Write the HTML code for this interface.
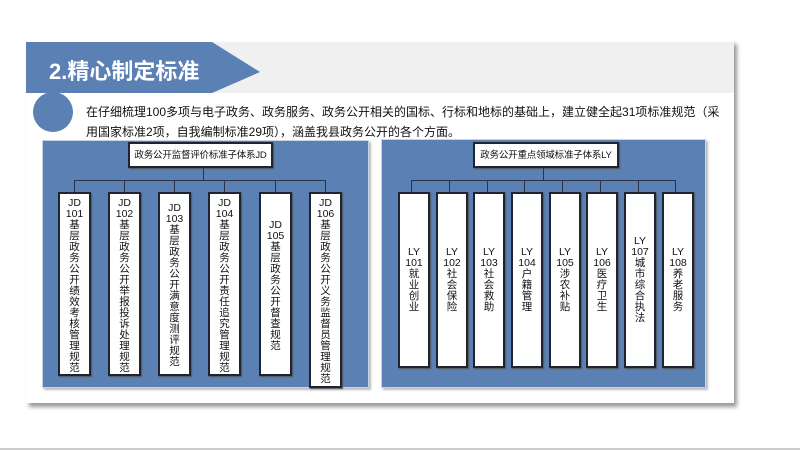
<!DOCTYPE html>
<html><head><meta charset="utf-8"><style>
*{margin:0;padding:0;box-sizing:border-box}
body{width:800px;height:450px;background:#fff;position:relative;overflow:hidden;font-family:"Liberation Sans","Noto Sans CJK SC",sans-serif}
.card{position:absolute;left:26px;top:40px;width:708px;height:363px;background:#fff;box-shadow:3px 4px 4px #9a9a9a}
.band{position:absolute;left:26px;top:42px;width:708px;height:51px;background:#f0f0f0}
.panel{position:absolute;background:#5a80b4;box-shadow:2px 2px 2px #bbb;border:1px solid #c8d4e4}
.b{position:absolute;background:#fff;border:2px solid #1e2432;box-shadow:1px 1px 1px #555;font-size:10.5px;color:#111;text-align:center;line-height:11px}
.v{display:flex;flex-direction:column;align-items:center;padding-top:4px}
.c{display:flex;flex-direction:column;align-items:center;justify-content:center}
.t{white-space:nowrap;font-size:9.5px;letter-spacing:-0.2px}
.ln{position:absolute;background:#2a3448}
.p{position:absolute;left:86px;font-size:12px;color:#111;white-space:nowrap}
</style></head><body>
<div class="card"></div>
<div class="band"></div>
<svg style="position:absolute;left:0;top:0" width="800" height="450">
<polygon points="26,42 212,42 260,72 212,93 26,93" fill="#5a80b4"/>
<circle cx="53" cy="112" r="20" fill="#5a80b4"/>
<line x1="0" y1="449" x2="800" y2="449" stroke="#ccc" stroke-width="2"/>
</svg>
<div style="position:absolute;left:49px;top:54px;color:#fff;font-size:22px;font-weight:bold">2.精心制定标准</div>
<div class="p" style="top:103px">在仔细梳理100多项与电子政务、政务服务、政务公开相关的国标、行标和地标的基础上，建立健全起31项标准规范（采</div>
<div class="p" style="top:123px">用国家标准2项，自我编制标准29项），涵盖我县政务公开的各个方面。</div>

<div class="panel" style="left:42px;top:140px;width:327px;height:248px"></div>
<div class="panel" style="left:381px;top:139px;width:325px;height:249px"></div>

<!-- left tree -->
<div class="b c t" style="left:128px;top:142px;width:145px;height:26px">政务公开监督评价标准子体系JD</div>
<div class="ln" style="left:203px;top:168px;width:1px;height:13px"></div>
<div class="ln" style="left:74px;top:180px;width:252px;height:1px"></div>
<div class="ln" style="left:74px;top:180px;width:1px;height:12px"></div>
<div class="ln" style="left:124px;top:180px;width:1px;height:12px"></div>
<div class="ln" style="left:174px;top:180px;width:1px;height:12px"></div>
<div class="ln" style="left:224px;top:180px;width:1px;height:12px"></div>
<div class="ln" style="left:275px;top:180px;width:1px;height:12px"></div>
<div class="ln" style="left:325px;top:180px;width:1px;height:12px"></div>

<div class="b v" style="left:58px;top:192px;width:33px;height:184px"><span>JD</span><span>101</span><span>基</span><span>层</span><span>政</span><span>务</span><span>公</span><span>开</span><span>绩</span><span>效</span><span>考</span><span>核</span><span>管</span><span>理</span><span>规</span><span>范</span></div>
<div class="b v" style="left:108px;top:192px;width:33px;height:184px"><span>JD</span><span>102</span><span>基</span><span>层</span><span>政</span><span>务</span><span>公</span><span>开</span><span>举</span><span>报</span><span>投</span><span>诉</span><span>处</span><span>理</span><span>规</span><span>范</span></div>
<div class="b v" style="left:158px;top:192px;width:33px;height:184px;padding-top:9px"><span>JD</span><span>103</span><span>基</span><span>层</span><span>政</span><span>务</span><span>公</span><span>开</span><span>满</span><span>意</span><span>度</span><span>测</span><span>评</span><span>规</span><span>范</span></div>
<div class="b v" style="left:208px;top:192px;width:33px;height:184px"><span>JD</span><span>104</span><span>基</span><span>层</span><span>政</span><span>务</span><span>公</span><span>开</span><span>责</span><span>任</span><span>追</span><span>究</span><span>管</span><span>理</span><span>规</span><span>范</span></div>
<div class="b v" style="left:259px;top:192px;width:33px;height:184px;padding-top:26px"><span>JD</span><span>105</span><span>基</span><span>层</span><span>政</span><span>务</span><span>公</span><span>开</span><span>督</span><span>查</span><span>规</span><span>范</span></div>
<div class="b v" style="left:309px;top:192px;width:33px;height:196px"><span>JD</span><span>106</span><span>基</span><span>层</span><span>政</span><span>务</span><span>公</span><span>开</span><span>义</span><span>务</span><span>监</span><span>督</span><span>员</span><span>管</span><span>理</span><span>规</span><span>范</span></div>

<!-- right tree -->
<div class="b c t" style="left:473px;top:142px;width:146px;height:26px">政务公开重点领域标准子体系LY</div>
<div class="ln" style="left:543px;top:168px;width:1px;height:13px"></div>
<div class="ln" style="left:411px;top:180px;width:265px;height:1px"></div>
<div class="ln" style="left:411px;top:180px;width:1px;height:12px"></div>
<div class="ln" style="left:449px;top:180px;width:1px;height:12px"></div>
<div class="ln" style="left:487px;top:180px;width:1px;height:12px"></div>
<div class="ln" style="left:524px;top:180px;width:1px;height:12px"></div>
<div class="ln" style="left:562px;top:180px;width:1px;height:12px"></div>
<div class="ln" style="left:600px;top:180px;width:1px;height:12px"></div>
<div class="ln" style="left:638px;top:180px;width:1px;height:12px"></div>
<div class="ln" style="left:675px;top:180px;width:1px;height:12px"></div>

<div class="b c" style="left:398px;top:192px;width:32px;height:176px"><span>LY</span><span>101</span><span>就</span><span>业</span><span>创</span><span>业</span></div>
<div class="b c" style="left:436px;top:192px;width:32px;height:176px"><span>LY</span><span>102</span><span>社</span><span>会</span><span>保</span><span>险</span></div>
<div class="b c" style="left:473px;top:192px;width:32px;height:176px"><span>LY</span><span>103</span><span>社</span><span>会</span><span>救</span><span>助</span></div>
<div class="b c" style="left:511px;top:192px;width:32px;height:176px"><span>LY</span><span>104</span><span>户</span><span>籍</span><span>管</span><span>理</span></div>
<div class="b c" style="left:549px;top:192px;width:32px;height:176px"><span>LY</span><span>105</span><span>涉</span><span>农</span><span>补</span><span>贴</span></div>
<div class="b c" style="left:586px;top:192px;width:32px;height:176px"><span>LY</span><span>106</span><span>医</span><span>疗</span><span>卫</span><span>生</span></div>
<div class="b c" style="left:624px;top:192px;width:32px;height:176px"><span>LY</span><span>107</span><span>城</span><span>市</span><span>综</span><span>合</span><span>执</span><span>法</span></div>
<div class="b c" style="left:662px;top:192px;width:32px;height:176px"><span>LY</span><span>108</span><span>养</span><span>老</span><span>服</span><span>务</span></div>
</body></html>
